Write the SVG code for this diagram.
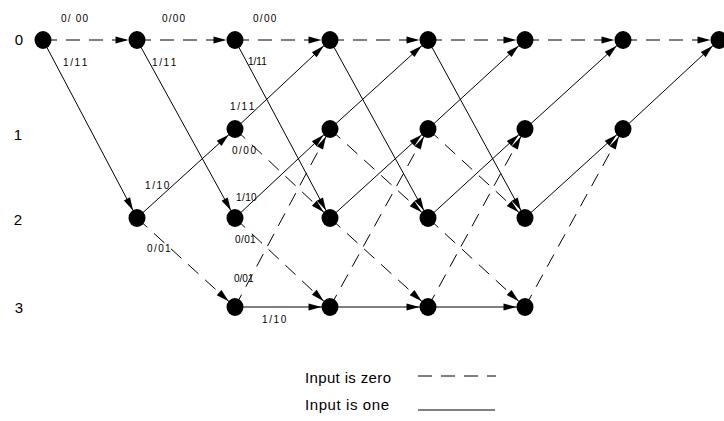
<svg xmlns="http://www.w3.org/2000/svg" width="724" height="421" viewBox="0 0 724 421">
  <style>
    .edge { stroke: #000; stroke-width: 1; fill: none; }
    .zero { stroke-dasharray: 14 9; }
    .one { }
    .node { fill: #000; }
    .lbl { font-family: "Liberation Sans", Arial, sans-serif; font-size: 10px; fill: #000; }
    .sp { word-spacing: -1.2px; }
    .row { font-family: "Liberation Sans", Arial, sans-serif; font-size: 15px; fill: #000; text-anchor: middle; }
    .leg { font-family: "Liberation Sans", Arial, sans-serif; font-size: 15px; fill: #000; }
  </style>
  <defs>
    <marker id="arrow" markerUnits="userSpaceOnUse" markerWidth="14" markerHeight="8" refX="21.5" refY="3.5" orient="auto" overflow="visible">
      <path d="M0,0 L13,3.5 L0,7 z" fill="#000"/>
    </marker>
  </defs>
  <rect width="724" height="421" fill="#fff"/>

  <!-- state labels -->
  <g id="state-labels">
    <text class="row" x="19" y="45">0</text>
    <text class="row" x="18" y="140">1</text>
    <text class="row" x="18" y="225">2</text>
    <text class="row" x="19" y="313">3</text>
  </g>

  <!-- trellis branches: dashed = input 0, solid = input 1 -->
  <g id="connectors" marker-end="url(#arrow)">
    <!-- t0 -> t1 -->
    <line class="edge zero" x1="43" y1="40" x2="137" y2="40"/>
    <line class="edge one" x1="43" y1="40" x2="137" y2="218"/>
    <!-- t1 -> t2 -->
    <line class="edge zero" x1="137" y1="40" x2="235" y2="40"/>
    <line class="edge one" x1="137" y1="40" x2="235" y2="218"/>
    <line class="edge one" x1="137" y1="218" x2="235" y2="129"/>
    <line class="edge zero" x1="137" y1="218" x2="235" y2="307"/>
    <!-- t2 -> t3 -->
    <line class="edge zero" x1="235" y1="40" x2="330" y2="40"/>
    <line class="edge one" x1="235" y1="40" x2="330" y2="218"/>
    <line class="edge one" x1="235" y1="129" x2="330" y2="40"/>
    <line class="edge zero" x1="235" y1="129" x2="330" y2="218"/>
    <line class="edge one" x1="235" y1="218" x2="330" y2="129"/>
    <line class="edge zero" x1="235" y1="218" x2="330" y2="307"/>
    <line class="edge zero" x1="235" y1="307" x2="330" y2="129"/>
    <line class="edge one" x1="235" y1="307" x2="330" y2="307"/>
    <!-- t3 -> t4 -->
    <line class="edge zero" x1="330" y1="40" x2="428" y2="40"/>
    <line class="edge one" x1="330" y1="40" x2="428" y2="218"/>
    <line class="edge one" x1="330" y1="129" x2="428" y2="40"/>
    <line class="edge zero" x1="330" y1="129" x2="428" y2="218"/>
    <line class="edge one" x1="330" y1="218" x2="428" y2="129"/>
    <line class="edge zero" x1="330" y1="218" x2="428" y2="307"/>
    <line class="edge zero" x1="330" y1="307" x2="428" y2="129"/>
    <line class="edge one" x1="330" y1="307" x2="428" y2="307"/>
    <!-- t4 -> t5 -->
    <line class="edge zero" x1="428" y1="40" x2="525" y2="40"/>
    <line class="edge one" x1="428" y1="40" x2="525" y2="218"/>
    <line class="edge one" x1="428" y1="129" x2="525" y2="40"/>
    <line class="edge zero" x1="428" y1="129" x2="525" y2="218"/>
    <line class="edge one" x1="428" y1="218" x2="525" y2="129"/>
    <line class="edge zero" x1="428" y1="218" x2="525" y2="307"/>
    <line class="edge zero" x1="428" y1="307" x2="525" y2="129"/>
    <line class="edge one" x1="428" y1="307" x2="525" y2="307"/>
    <!-- t5 -> t6 -->
    <line class="edge zero" x1="525" y1="40" x2="623" y2="40"/>
    <line class="edge one" x1="525" y1="129" x2="623" y2="40"/>
    <line class="edge one" x1="525" y1="218" x2="623" y2="129"/>
    <line class="edge zero" x1="525" y1="307" x2="623" y2="129"/>
    <!-- t6 -> t7 -->
    <line class="edge zero" x1="623" y1="40" x2="719" y2="40"/>
    <line class="edge one" x1="623" y1="129" x2="719" y2="40"/>
  </g>

  <!-- branch labels: input / output bits -->
  <g id="branch-labels">
    <text class="lbl" x="61" y="22" letter-spacing="1.2">0/ 00</text>
    <text class="lbl" x="162" y="22" letter-spacing="1.2">0/00</text>
    <text class="lbl" x="253" y="22" letter-spacing="1.3">0/00</text>
    <text class="lbl sp" x="63" y="66">1 / 1 1</text>
    <text class="lbl sp" x="152" y="66">1 / 1 1</text>
    <text class="lbl" x="248" y="65">1/11</text>
    <text class="lbl sp" x="230" y="110">1 / 1 1</text>
    <text class="lbl" x="232" y="154" letter-spacing="1.5">0/00</text>
    <text class="lbl sp" x="145" y="189">1 / 1 0</text>
    <text class="lbl" x="236" y="201" letter-spacing="0.4">1/10</text>
    <text class="lbl" x="147" y="252" letter-spacing="1.4">0/01</text>
    <text class="lbl" x="235" y="243" letter-spacing="0.4">0/01</text>
    <text class="lbl" x="234" y="282">0/01</text>
    <text class="lbl sp" x="262" y="323">1 / 1 0</text>
  </g>

  <!-- trellis states -->
  <g id="n-t0-s0"><ellipse class="node" cx="43" cy="40" rx="8.5" ry="9"/></g>
  <g id="n-t1-s0"><ellipse class="node" cx="137" cy="40" rx="8.5" ry="9"/></g>
  <g id="n-t1-s2"><ellipse class="node" cx="137" cy="218" rx="8.5" ry="9"/></g>
  <g id="n-t2-s0"><ellipse class="node" cx="235" cy="40" rx="8.5" ry="9"/></g>
  <g id="n-t2-s1"><ellipse class="node" cx="235" cy="129" rx="8.5" ry="9"/></g>
  <g id="n-t2-s2"><ellipse class="node" cx="235" cy="218" rx="8.5" ry="9"/></g>
  <g id="n-t2-s3"><ellipse class="node" cx="235" cy="307" rx="8.5" ry="9"/></g>
  <g id="n-t3-s0"><ellipse class="node" cx="330" cy="40" rx="8.5" ry="9"/></g>
  <g id="n-t3-s1"><ellipse class="node" cx="330" cy="129" rx="8.5" ry="9"/></g>
  <g id="n-t3-s2"><ellipse class="node" cx="330" cy="218" rx="8.5" ry="9"/></g>
  <g id="n-t3-s3"><ellipse class="node" cx="330" cy="307" rx="8.5" ry="9"/></g>
  <g id="n-t4-s0"><ellipse class="node" cx="428" cy="40" rx="8.5" ry="9"/></g>
  <g id="n-t4-s1"><ellipse class="node" cx="428" cy="129" rx="8.5" ry="9"/></g>
  <g id="n-t4-s2"><ellipse class="node" cx="428" cy="218" rx="8.5" ry="9"/></g>
  <g id="n-t4-s3"><ellipse class="node" cx="428" cy="307" rx="8.5" ry="9"/></g>
  <g id="n-t5-s0"><ellipse class="node" cx="525" cy="40" rx="8.5" ry="9"/></g>
  <g id="n-t5-s1"><ellipse class="node" cx="525" cy="129" rx="8.5" ry="9"/></g>
  <g id="n-t5-s2"><ellipse class="node" cx="525" cy="218" rx="8.5" ry="9"/></g>
  <g id="n-t5-s3"><ellipse class="node" cx="525" cy="307" rx="8.5" ry="9"/></g>
  <g id="n-t6-s0"><ellipse class="node" cx="623" cy="40" rx="8.5" ry="9"/></g>
  <g id="n-t6-s1"><ellipse class="node" cx="623" cy="129" rx="8.5" ry="9"/></g>
  <g id="n-t7-s0"><ellipse class="node" cx="719" cy="40" rx="8.5" ry="9"/></g>

  <!-- legend -->
  <g id="legend">
    <text class="leg" x="305" y="383" textLength="86" lengthAdjust="spacing">Input is zero</text>
    <line class="edge zero" x1="418" y1="376" x2="496" y2="376"/>
    <text class="leg" x="305" y="410" textLength="84" lengthAdjust="spacing">Input is one</text>
    <line class="edge one" x1="418" y1="410" x2="495" y2="410"/>
  </g>
</svg>
